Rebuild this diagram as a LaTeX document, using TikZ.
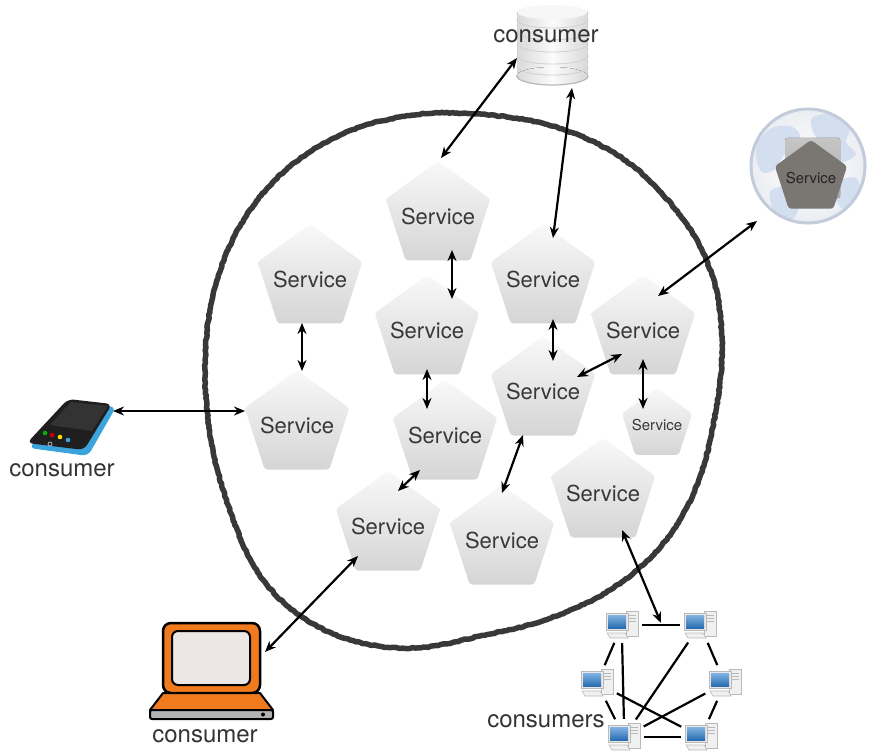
\documentclass[tikz,border=0pt]{standalone}
\usepackage{fontspec}
\setmainfont{TeX Gyre Heros}
\usetikzlibrary{shapes.geometric,arrows.meta,calc,decorations.pathmorphing,shadings}

\definecolor{laptoporange}{HTML}{F07A1E}
\definecolor{laptopscreen}{HTML}{ECE6E4}
\definecolor{phoneblue}{HTML}{3BA4DC}
\definecolor{screenblue}{HTML}{2F80D0}
\definecolor{globerim}{HTML}{C3CCDB}
\definecolor{globeland}{HTML}{D3DFEE}
\definecolor{darksvc}{HTML}{7A7672}

% label set in a zero-width box so that only minimum size fixes the pentagon
\newcommand{\svcname}{\makebox[0pt][c]{Service}}

\tikzset{
  computer/.pic={
    % tower
    \draw[fill=gray!12, draw=gray!55, line width=0.6pt] (4,-14) rectangle (16,11);
    \draw[gray!55, line width=0.5pt] (6,-10) -- (14,-10) (6,-7) -- (14,-7) (6,-4) -- (14,-4);
    % monitor
    \draw[fill=gray!18, draw=gray!55, line width=0.6pt] (-16,-12) rectangle (6,5);
    \fill[top color=screenblue!60!white, bottom color=screenblue!85!black] (-14,-10) rectangle (4,3);
    % keyboard
    \draw[fill=gray!12, draw=gray!55, line width=0.6pt] (-15,8) -- (3,8) -- (6,13) -- (-12,13) -- cycle;
  }
}

\begin{document}
\begin{tikzpicture}[x=1pt,y=-1pt,
  svc/.style={regular polygon, regular polygon sides=5, minimum size=110pt, inner sep=0pt,
    rounded corners=3pt, top color=gray!5, bottom color=gray!33, draw=none,
    text=black!78, font=\fontsize{22}{24}\selectfont},
  svcsmall/.style={svc, minimum size=74pt, font=\fontsize{15}{17}\selectfont},
  link/.style={{Stealth[length=11pt,width=9pt]}-{Stealth[length=11pt,width=9pt]}, line width=2.2pt},
  wire/.style={line width=2.2pt, shorten >=4pt, shorten <=4pt},
  lbl/.style={font=\fontsize{24}{26}\selectfont, text=black!80, inner sep=0pt},
  holder/.style={inner sep=0pt, draw=none},
  rough/.style={draw=black!78, line width=5.5pt, line join=round,
    decorate, decoration={random steps, segment length=2.5pt, amplitude=0.6pt}},
]
\useasboundingbox (0,0) rectangle (877,754);
\pgfmathsetseed{7}

% the boundary of the service landscape
\draw[rough] plot[smooth cycle, tension=0.6] coordinates {
  (457,113) (545,124) (622,158) (680,215) (712,275) (722,340) (716,410)
  (697,485) (662,545) (610,590) (545,620) (480,636) (415,648) (350,640)
  (295,612) (255,568) (228,505) (211,440) (205,370) (212,300) (235,235)
  (275,180) (330,140) (390,119)};

% services
\node[svc] (s1) at (438,216) {\svcname};
\node[svc] (s2) at (310,279) {\svcname};
\node[svc] (s3) at (543,279) {\svcname};
\node[svc] (s4) at (427,330) {\svcname};
\node[svc] (s5) at (643,330) {\svcname};
\node[svc] (s6) at (543,391) {\svcname};
\node[svc] (s7) at (297,425) {\svcname};
\node[svc] (s8) at (445,435) {\svcname};
\node[svcsmall] (s9) at (657,425) {\svcname};
\node[svc] (s10) at (603,493) {\svcname};
\node[svc] (s11) at (388,526) {\svcname};
\node[svc] (s12) at (502,540) {\svcname};

% database consumer
\node[holder, minimum width=72pt, minimum height=80pt] (db) at (552,45) {};
\fill[left color=gray!30, right color=gray!30, middle color=gray!3] (517,12) rectangle (588,76);
\fill[left color=gray!30, right color=gray!30, middle color=gray!3] (552,76) ellipse[x radius=35.5, y radius=9];
\fill[gray!6] (552,12) ellipse[x radius=35.5, y radius=7];
\foreach \yy in {20,32,44,56,67}
  \draw[gray!35, line width=0.9pt] (517,\yy) arc[start angle=180, end angle=0, x radius=35.5, y radius=8];
\draw[gray!55, line width=1.2pt] (517,76) arc[start angle=180, end angle=0, x radius=35.5, y radius=9];
\draw[gray!40, dashed, line width=0.6pt] (517.5,12) -- (517.5,76) (587.5,12) -- (587.5,76);
\node[lbl] (dblabel) at (546,36) {consumer};

% globe consumer
\node[circle, minimum size=116pt, holder] (globe) at (808,166) {};
\fill[inner color=white, outer color=globerim!35] (globe.center) circle[radius=58];
\begin{scope}
  \clip (globe.center) circle[radius=57];
  \fill[globeland] plot[smooth cycle] coordinates {(758,142) (772,128) (790,126) (800,136) (786,152) (774,170) (762,172) (756,158)};
  \fill[globeland] plot[smooth cycle] coordinates {(812,118) (832,114) (850,126) (846,142) (856,154) (842,162) (828,148) (814,134)};
  \fill[globeland] plot[smooth cycle] coordinates {(770,192) (790,186) (800,202) (792,220) (776,216)};
  \fill[globeland] plot[smooth cycle] coordinates {(838,182) (856,178) (862,198) (848,212) (836,200)};
\end{scope}
\draw[globerim, line width=3pt] (globe.center) circle[radius=57];
\fill[top color=gray!45, bottom color=gray!65, rounded corners=2pt] (785,138) rectangle (840,198);
\node[svc, minimum size=76pt, top color=darksvc, bottom color=darksvc, text=black!85,
  font=\fontsize{15}{17}\selectfont] (gsvc) at (811,178) {\svcname};

% phone consumer
\node[holder, minimum width=90pt, minimum height=56pt] (phone) at (70,425) {};
\fill[phoneblue, rounded corners=6pt] (70,402) -- (116,407) -- (88,456) -- (29,448) -- cycle;
\fill[black!88, rounded corners=6pt] (68,399) -- (112,404) -- (84,450) -- (27,443) -- cycle;
\fill[black!80] (71,402) -- (108,406) -- (92,431) -- (50,425) -- cycle;
\fill[green!70!black] (45,433) circle[radius=2.3];
\fill[red!80!black] (52,435) circle[radius=2.3];
\fill[yellow!80!orange] (60,437) circle[radius=2.3];
\fill[phoneblue] (68,440) circle[radius=2.3];
\draw[gray!60, line width=0.8pt] (50,444) circle[radius=2];
\node[lbl] (phonelabel) at (62,470) {consumer};

% laptop consumer
\node[holder, minimum width=97pt, minimum height=70pt] (laptop) at (212,658) {};
\draw[fill=laptoporange, line width=2.5pt, rounded corners=8pt] (163,623) rectangle (260,693);
\draw[fill=laptopscreen, line width=2pt, rounded corners=6pt] (172,631) rectangle (250,685);
\draw[fill=laptoporange, line width=2pt, line join=round] (163,693) -- (260,693) -- (273,710) -- (150,710) -- cycle;
\draw[fill=gray!60, line width=2pt, rounded corners=2pt] (150,710) rectangle (273,719);
\fill (263,714.5) circle[radius=2];
\node[lbl] (laptoplabel) at (205,736) {consumer};

% network of consumers
\foreach \n/\px/\py in {c1/622/625, c2/700/625, c3/597/683, c4/725/683, c5/624/737, c6/701/737} {
  \node[holder, minimum width=32pt, minimum height=28pt] (\n) at (\px,\py) {};
  \pic at (\n) {computer};
}
\draw[wire] (c1) -- (c2);
\draw[wire] (c1) -- (c3);
\draw[wire] (c2) -- (c4);
\draw[wire] (c1.south) -- (c5.north);
\draw[wire] (c2) -- (c5);
\draw[wire] (c4) -- (c5);
\draw[wire] (c3) -- (c6);
\draw[wire] (c3) -- (c5);
\draw[wire] (c4) -- (c6);
\draw[wire] (c5) -- (c6);
\node[lbl] (netlabel) at (546,721) {consumers};

% connections
\draw[link] ($(db)+(-35,13)$) -- ($(s1)+(3,-58)$);
\draw[link] ($(db)+(20,43)$) -- ($(s3)+(10,-41)$);
\draw[link] ($(globe)+(-51,55)$) -- ($(s5)+(15,-34)$);
\draw[link] ($(s1)+(14,34)$) -- ($(s4)+(25,-31)$);
\draw[link] ($(s2)+(-8,44)$) -- ($(s7)+(5,-54)$);
\draw[link] ($(s3)+(10,40)$) -- ($(s6)+(10,-30)$);
\draw[link] ($(s6)+(34,-14)$) -- ($(s5)+(-21,24)$);
\draw[link] ($(s5)+(0,29)$) -- ($(s9)+(-14,-16)$);
\draw[link] ($(phone)+(43,-14)$) -- ($(s7)+(-52,-14)$);
\draw[link] ($(s4)+(0,39)$) -- ($(s8)+(-18,-26)$);
\draw[link] ($(s6)+(-20,44)$) -- ($(s12)+(0,-47)$);
\draw[link] ($(s8)+(-25,35)$) -- ($(s11)+(10,-35)$);
\draw[link] ($(s11)+(-30,30)$) -- ($(laptop)+(53,-6)$);
\draw[link] ($(s10)+(19,37)$) -- ($(c1)!0.5!(c2)+(0,-2)$);
\end{tikzpicture}
\end{document}
